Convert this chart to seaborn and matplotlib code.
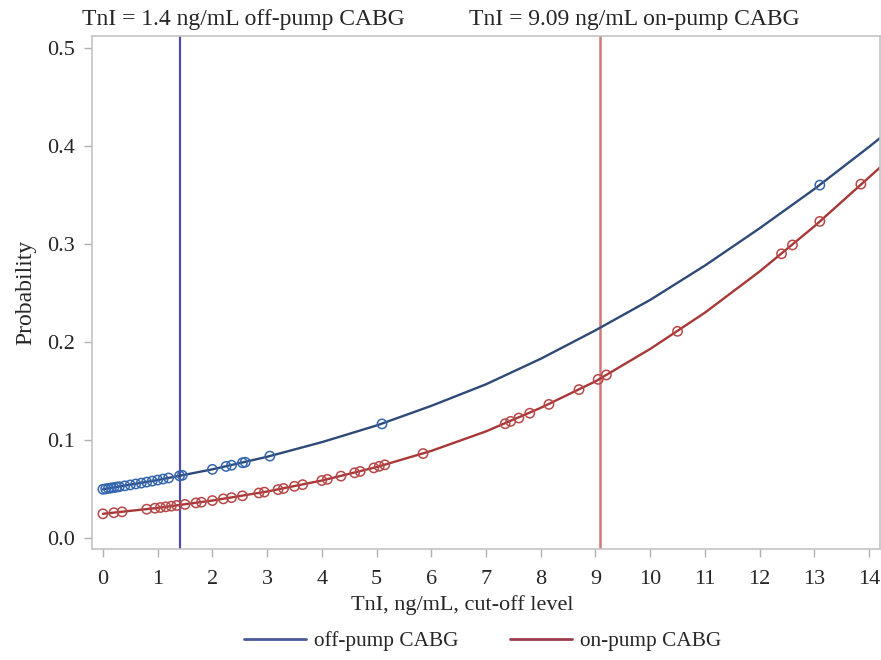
import matplotlib
matplotlib.use('Agg')
import matplotlib.pyplot as plt
import seaborn as sns
import pandas as pd

# fitted curves
curve_x = [0, 1, 2, 3, 4, 5, 6, 7, 8, 9, 10, 11, 12, 13, 14, 14.2]
off_curve = [0.050, 0.0594, 0.0703, 0.0831, 0.098, 0.115, 0.135, 0.157, 0.183,
             0.212, 0.243, 0.278, 0.316, 0.356, 0.399, 0.408]
on_curve = [0.025, 0.0310, 0.0385, 0.0477, 0.0589, 0.0726, 0.0891, 0.109, 0.133,
            0.160, 0.193, 0.230, 0.272, 0.318, 0.368, 0.378]

# observed points (open circles)
off_pts_x = [0.0, 0.05, 0.1, 0.15, 0.2, 0.25, 0.3, 0.4, 0.5, 0.6, 0.7, 0.8, 0.9,
             1.0, 1.1, 1.2, 1.4, 1.45, 2.0, 2.25, 2.35, 2.55, 2.6, 3.05, 5.1, 13.1]
off_pts_y = [0.050, 0.0504, 0.0509, 0.0513, 0.0517, 0.0522, 0.0526, 0.0535, 0.0544,
             0.0554, 0.0563, 0.0573, 0.0583, 0.0594, 0.0604, 0.0615, 0.0637, 0.0642,
             0.0703, 0.0733, 0.0745, 0.0770, 0.0776, 0.0838, 0.1166, 0.360]
on_pts_x = [0.0, 0.2, 0.35, 0.8, 0.95, 1.05, 1.15, 1.25, 1.35, 1.5, 1.7, 1.8, 2.0,
            2.2, 2.35, 2.55, 2.85, 2.95, 3.2, 3.3, 3.5, 3.65, 4.0, 4.1, 4.35, 4.6,
            4.7, 4.95, 5.05, 5.15, 5.85, 7.35, 7.45, 7.6, 7.8, 8.15, 8.7, 9.05, 9.2,
            10.5, 12.4, 12.6, 13.1, 13.85]
on_pts_y = [0.025, 0.0261, 0.027, 0.0297, 0.0307, 0.0314, 0.0321, 0.0328, 0.0335,
            0.0346, 0.0361, 0.0368, 0.0385, 0.0402, 0.0415, 0.0433, 0.0462, 0.0471,
            0.0497, 0.0508, 0.0530, 0.0547, 0.0589, 0.0601, 0.0634, 0.0668, 0.0682,
            0.0718, 0.0734, 0.0749, 0.0864, 0.1168, 0.1192, 0.1226, 0.1275, 0.1365,
            0.1516, 0.162, 0.1665, 0.211, 0.290, 0.299, 0.323, 0.361]

cut_off = 1.4
cut_on = 9.09

sns.set_style('white')
plt.rcParams['font.family'] = ['Liberation Serif', 'DejaVu Serif']

blue_line = '#2e4a78'
red_line = '#a83838'
blue_pt = '#3466b0'
red_pt = '#b84848'

fig = plt.figure(figsize=(8.81, 6.6), dpi=100)
ax = fig.add_axes([0.1044, 0.168, 0.8945, 0.7775])

curves = pd.DataFrame({'x': curve_x + curve_x,
                       'p': off_curve + on_curve,
                       'grp': ['off-pump CABG'] * len(curve_x) + ['on-pump CABG'] * len(curve_x)})
sns.lineplot(data=curves, x='x', y='p', hue='grp', palette=[blue_line, red_line],
             lw=1.7, ax=ax, legend=False)

sns.scatterplot(x=off_pts_x, y=off_pts_y, ax=ax, marker='o', s=45,
                facecolor='none', edgecolor=blue_pt, linewidth=1.1, zorder=3)
sns.scatterplot(x=on_pts_x, y=on_pts_y, ax=ax, marker='o', s=45,
                facecolor='none', edgecolor=red_pt, linewidth=1.1, zorder=3)

ax.axvline(cut_off, color='#4f4fa8', lw=1.6, zorder=1)
ax.axvline(cut_on, color='#d07a78', lw=1.8, zorder=1)

ax.set_xlim(-0.2, 14.2)
ax.set_ylim(-0.011, 0.512)
ax.set_xticks(range(0, 15))
ax.set_yticks([0.0, 0.1, 0.2, 0.3, 0.4, 0.5])
ax.set_yticklabels(['0.0', '0.1', '0.2', '0.3', '0.4', '0.5'])
ax.tick_params(axis='both', labelsize=16, length=6, width=1, color='#b0b0b0',
               direction='out', bottom=True, left=True)
ax.tick_params(axis='x', pad=9)
ax.tick_params(axis='y', pad=6)
for s in ax.spines.values():
    s.set_color('#c4c4c4')
    s.set_linewidth(1.2)

ax.set_xlabel('TnI, ng/mL, cut-off level', fontsize=16)
ax.xaxis.set_label_coords((462 - 92) / 788, -0.09)
ax.set_ylabel('Probability', fontsize=17, labelpad=8)

fig.text(82 / 881, 1 - 19 / 660, 'TnI = 1.4 ng/mL off-pump CABG', fontsize=17,
         va='center', ha='left')
fig.text(469 / 881, 1 - 19 / 660, 'TnI = 9.09 ng/mL on-pump CABG', fontsize=17,
         va='center', ha='left')

h1, = ax.plot([], [], color='#4a5a9a', lw=2)
h2, = ax.plot([], [], color='#9c3c4c', lw=2)
fig.legend([h1, h2], ['off-pump CABG', 'on-pump CABG'], loc='center',
           bbox_to_anchor=(0.548, 1 - 641 / 660), ncol=2, frameon=False,
           fontsize=15.3, handlelength=2.9, columnspacing=2.4, handletextpad=0.4)

fig.savefig('out.png', dpi=100)
